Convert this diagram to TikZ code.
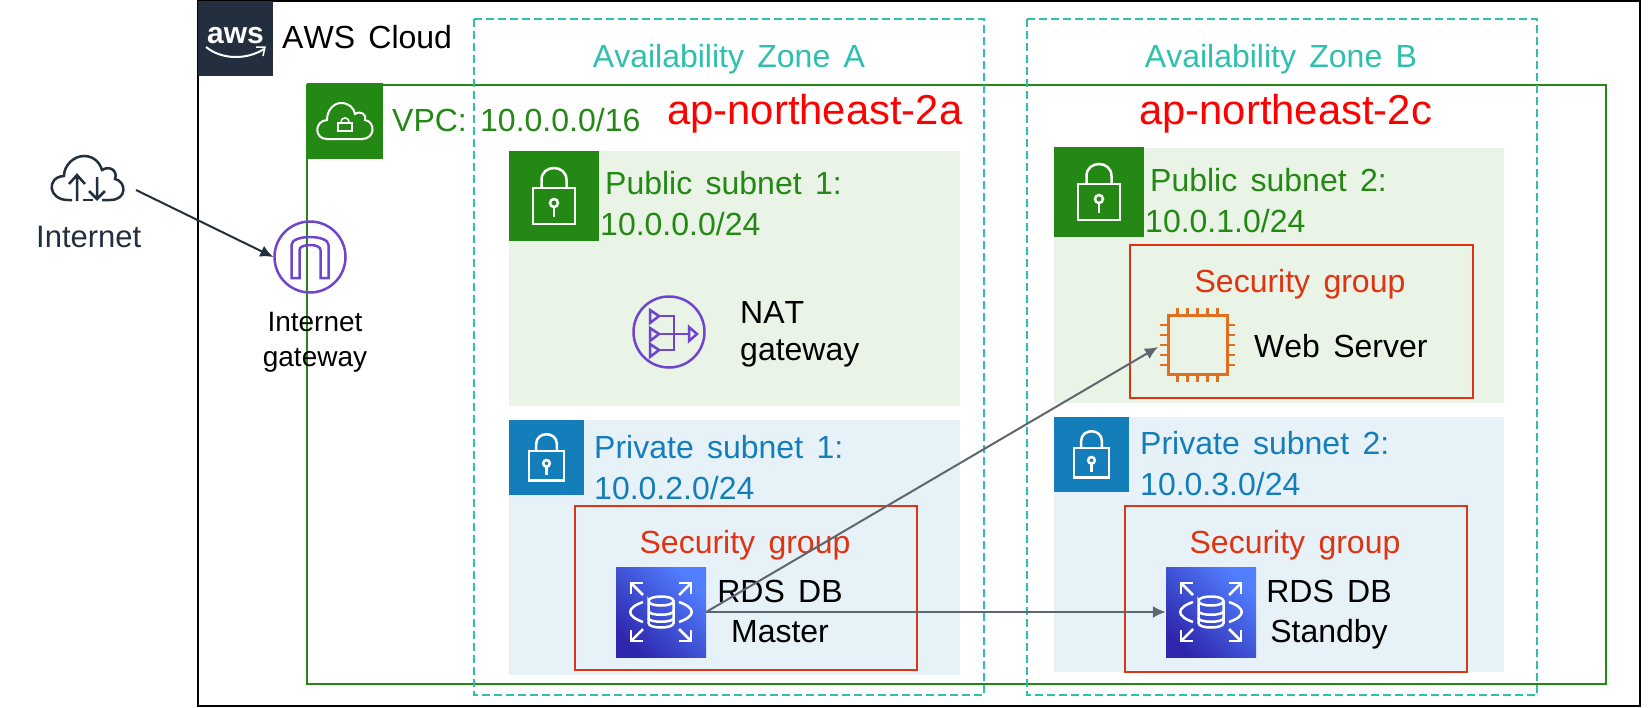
\documentclass[tikz,border=0pt]{standalone}
\usepackage{fontspec}
\setmainfont[Kerning=Off,WordSpace=1.5]{Liberation Sans}
\usetikzlibrary{positioning,arrows.meta}
\definecolor{awsdark}{HTML}{232F3E}
\definecolor{vpcgreen}{HTML}{248814}
\definecolor{privblue}{HTML}{147EBA}
\definecolor{sgred}{HTML}{DF3312}
\definecolor{pubfill}{HTML}{E9F3E6}
\definecolor{privfill}{HTML}{E6F2F8}
\definecolor{azteal}{HTML}{2EBFAE}
\definecolor{igwpurple}{HTML}{6F45CF}
\definecolor{chiporange}{HTML}{E07020}
\definecolor{linkgray}{HTML}{5F6670}
\definecolor{rdslight}{HTML}{527FFF}
\definecolor{rdsdeep}{HTML}{2E27AD}
\tikzset{
  lbl/.style={font=\fontsize{32}{41}\selectfont, inner sep=0pt, anchor=base west},
  mid/.style={lbl, anchor=base},
  twolines/.style={lbl, anchor=north west, align=left},
  azbox/.style={azteal, line width=1.5, dash pattern=on 8pt off 4pt},
  sgbox/.style={sgred, line width=2},
  tag/.style={minimum size=#1, inner sep=0pt},
  rdsbox/.style={tag=90pt, shade, top color=rdslight, bottom color=rdsdeep, shading angle=-45},
  ring/.style={circle, draw=igwpurple, line width=2.5, minimum size=71pt, inner sep=0pt},
  purpleline/.style={igwpurple, line width=2.5},
  chippin/.style={chiporange, line width=2.5},
  link/.style={linkgray, line width=2, -{Latex[length=13pt,width=12pt]}},
  pics/padlock/.style={code={
    \draw[white, line width=2.5] (-21,-8) rectangle (21,28);
    \draw[white, line width=2.5] (-12.5,-8) -- (-12.5,-16) .. controls (-12.5,-32) and (12.5,-32) .. (12.5,-16) -- (12.5,-8);
    \draw[white, line width=2.5] (0,7) circle (4);
    \draw[white, line width=2.5] (0,11) -- (0,21);
  }},
  pics/rdsmark/.style={code={
    \draw[white, line width=2.5] (-12.5,-11) .. controls (-12.5,-17) and (12.5,-17) .. (12.5,-11) .. controls (12.5,-5) and (-12.5,-5) .. (-12.5,-11) -- (-12.5,11) .. controls (-12.5,17) and (12.5,17) .. (12.5,11) -- (12.5,-11);
    \draw[white, line width=2.5] (-12.5,-1) .. controls (-12.5,4) and (12.5,4) .. (12.5,-1);
    \draw[white, line width=2.5] (-12.5,6) .. controls (-12.5,11) and (12.5,11) .. (12.5,6);
    \foreach \sx in {-1,1} {
      \draw[white, line width=2.5] (\sx*18,-10) .. controls (\sx*35,-4) and (\sx*35,4) .. (\sx*18,10);
      \foreach \sy in {-1,1} {
        \draw[white, line width=2.5] (\sx*18,\sy*17) -- (\sx*30,\sy*29);
        \draw[white, line width=2.5] (\sx*30,\sy*18) -- (\sx*30,\sy*29) -- (\sx*18,\sy*29);
      }
    }
  }},
}
\begin{document}
\begin{tikzpicture}[x=1pt,y=-1pt]
  \useasboundingbox (0,0) rectangle (1648,707);
  \fill[white] (0,0) rectangle (1648,707);
  % cloud and vpc frames
  \draw[black, line width=2.5] (198,1) rectangle (1640,706);
  \draw[vpcgreen, line width=2] (307,85) rectangle (1606,684);
  \draw[azbox] (474,19) rectangle (984,695);
  \draw[azbox] (1027,19) rectangle (1537,695);
  % subnets
  \fill[pubfill] (509,151) rectangle (960,406);
  \fill[privfill] (509,420) rectangle (960,675);
  \fill[pubfill] (1054,148) rectangle (1504,403);
  \fill[privfill] (1054,417) rectangle (1504,672);
  \draw[sgbox] (575,506) rectangle (917,670);
  \draw[sgbox] (1130,245) rectangle (1473,398);
  \draw[sgbox] (1125,506) rectangle (1467,672);
  % aws tag
  \node[tag=75pt, fill=awsdark] (awstag) at (235.5,38.5) {};
  \node[lbl, white, font=\fontsize{30}{30}\selectfont\bfseries] (awsmark) at (207,43) {aws};
  \draw[white, line width=2] (206,47) .. controls (222,60) and (247,60) .. (264,49);
  \draw[white, line width=1.5] (256,47) -- (265,47) -- (263,56);
  \node[lbl] (awstext) at (282,48) {AWS Cloud};
  % vpc tag
  \node[tag=76pt, fill=vpcgreen] (vpctag) at (345,121) {};
  \draw[white, line width=2] (327,139) .. controls (314,139) and (314,121) .. (327,120)
    .. controls (327,110) and (334,103) .. (341,103) .. controls (349,103) and (354,108) .. (355,114)
    .. controls (361,110) and (367,115) .. (365,120) .. controls (376,122) and (375,139) .. (362,139) -- cycle;
  \draw[white, line width=2] (338,123) rectangle (352,131);
  \draw[white, line width=1.5] (341,123) .. controls (341,116) and (349,116) .. (349,123);
  \node[lbl, vpcgreen] (vpctext) at (392,131) {VPC: 10.0.0.0/16};
  % zones
  \node[mid, azteal] (azatext) at (729,67) {Availability Zone A};
  \node[mid, azteal] (azbtext) at (1281,67) {Availability Zone B};
  \node[lbl, red, font=\fontsize{41.8}{48}\selectfont] (azaname) at (667,124) {ap-northeast-2a};
  \node[lbl, red, font=\fontsize{41.8}{48}\selectfont] (azbname) at (1139,124) {ap-northeast-2c};
  % internet
  \draw[awsdark, line width=2.5] (72,200) -- (68,200) .. controls (48,200) and (46,177) .. (64,176)
    .. controls (64,165) and (74,156) .. (84,156) .. controls (94,156) and (100,163) .. (102,170)
    .. controls (110,165) and (118,171) .. (115,179) .. controls (126,181) and (128,200) .. (110,200) -- (102,200);
  \draw[awsdark, line width=2.5] (83,200) -- (93,200);
  \draw[awsdark, line width=2.5] (77,201) -- (77,175) (69,184) -- (77,175) -- (85,184);
  \draw[awsdark, line width=2.5] (97,177) -- (97,199) (89,191) -- (97,199) -- (105,191);
  \node[lbl, awsdark, font=\fontsize{31}{41}\selectfont] (nettext) at (36,247) {Internet};
  \coordinate (netout) at (136,190);
  % internet gateway
  \node[ring] (igw) at (310,257) {};
  \draw[purpleline] (291.5,278) -- (291.5,245) .. controls (291.5,240) and (300,237) .. (310,237)
    .. controls (320,237) and (328.5,240) .. (328.5,245) -- (328.5,278) -- (320.5,278) -- (320.5,250)
    .. controls (320.5,247) and (316,245) .. (310,245) .. controls (304,245) and (299.5,247) .. (299.5,250) -- (299.5,278) -- cycle;
  \node[mid, align=center, font=\fontsize{28}{35}\selectfont] (igwtext) at (315,366) {Internet\\gateway};
  % subnet a
  \node[tag=90pt, fill=vpcgreen] (puba) at (554,196) {};
  \pic at (554,196) {padlock};
  \node[twolines, vpcgreen] (pubatext) at (600,171.5) {\hspace*{5pt}Public subnet 1:\\10.0.0.0/24};
  \node[ring] (nat) at (669,332) {};
  \draw[purpleline] (650,310) -- (659,316) -- (650,323) -- cycle;
  \draw[purpleline] (650,328) -- (659,334) -- (650,341) -- cycle;
  \draw[purpleline] (650,344) -- (659,350) -- (650,357) -- cycle;
  \draw[purpleline] (659,316) -- (674,316) -- (674,350) -- (659,350);
  \draw[purpleline] (660,334) -- (689,334);
  \draw[purpleline] (689,327) -- (697,334) -- (689,341) -- cycle;
  \node[twolines, font=\fontsize{32}{37}\selectfont] (nattext) at (740,301) {NAT\\gateway};
  \node[tag=75pt, fill=privblue] (priva) at (546.5,457.5) {};
  \pic[scale=.83] at (546.5,457.5) {padlock};
  \node[twolines, privblue] (privatext) at (594,435.5) {Private subnet 1:\\10.0.2.0/24};
  \node[mid, sgred] (sgatext) at (745,553) {Security group};
  \node[rdsbox] (rdsa) at (661,612) {};
  \pic at (661,612) {rdsmark};
  \node[mid, align=center, font=\fontsize{32}{40}\selectfont] (rdsatext) at (780,642) {RDS DB\\Master};
  % subnet b
  \node[tag=90pt, fill=vpcgreen] (pubb) at (1099,192) {};
  \pic at (1099,192) {padlock};
  \node[twolines, vpcgreen] (pubbtext) at (1145,168.5) {\hspace*{5pt}Public subnet 2:\\10.0.1.0/24};
  \node[mid, sgred] (sgbtext) at (1300,292) {Security group};
  \node[tag=59pt, draw=chiporange, line width=3] (chip) at (1197.5,345) {};
  \foreach \k in {-2,-1,0,1,2} {
    \draw[chippin] (1197.5+\k*10,308) -- (1197.5+\k*10,315);
    \draw[chippin] (1197.5+\k*10,375) -- (1197.5+\k*10,382);
    \draw[chippin] (1160,345+\k*10) -- (1167,345+\k*10);
    \draw[chippin] (1228,345+\k*10) -- (1235,345+\k*10);
  }
  \coordinate (chipin) at (1158,347);
  \node[lbl] (webtext) at (1254,357) {Web Server};
  \node[tag=75pt, fill=privblue] (privb) at (1091.5,454.5) {};
  \pic[scale=.83] at (1091.5,454.5) {padlock};
  \node[twolines, privblue] (privbtext) at (1140,431.5) {Private subnet 2:\\10.0.3.0/24};
  \node[mid, sgred] (sgctext) at (1295,553) {Security group};
  \node[rdsbox] (rdsb) at (1211,612) {};
  \pic at (1211,612) {rdsmark};
  \node[mid, align=center, font=\fontsize{32}{40}\selectfont] (rdsbtext) at (1329,642) {RDS DB\\Standby};
  % connectors
  \draw[awsdark, line width=2, -{Latex[length=13pt,width=12pt]}] (netout) -- (igw.west);
  \draw[link] (rdsa.east) -- (chipin);
  \draw[link] (rdsa.east) -- (rdsb.west);
\end{tikzpicture}
\end{document}
